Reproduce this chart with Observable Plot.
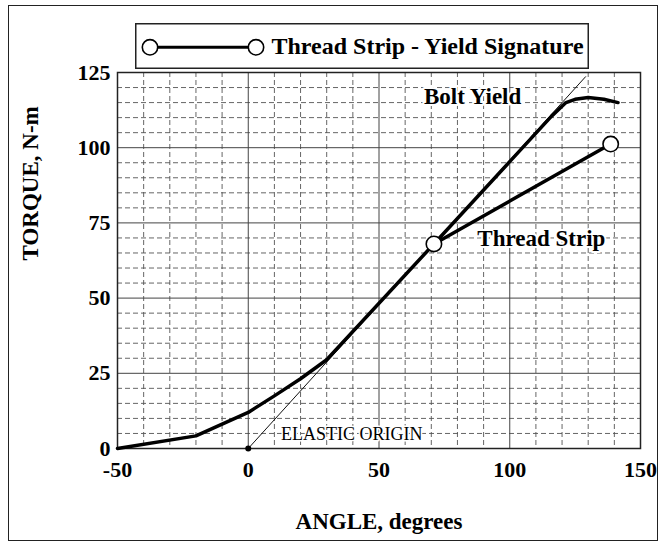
<!DOCTYPE html>
<html><head><meta charset="utf-8">
<script src="https://cdn.jsdelivr.net/npm/d3@7"></script>
<script src="https://cdn.jsdelivr.net/npm/@observablehq/plot@0.6"></script>
<style>
body{margin:0;background:#fff;}
#wrap{position:relative;width:659px;height:542px;overflow:hidden;background:#fff;}
#frame{position:absolute;left:8px;top:5px;width:650px;height:536px;border:1.5px solid #222;box-sizing:border-box;pointer-events:none;}
#legend{position:absolute;left:135px;top:23px;}
</style></head>
<body>
<div id="wrap"><div id="chart"></div><div id="frame"></div><div id="legend"></div></div>
<script>
// ---- data ----
const xTicks = [-50, 0, 50, 100, 150];
const yTicks = [0, 25, 50, 75, 100, 125];
const xMinor = [-40, -30, -20, -10, 10, 20, 30, 40, 60, 70, 80, 90, 110, 120, 130, 140];
const yMinor = [5, 10, 15, 20, 30, 35, 40, 45, 55, 60, 65, 70, 80, 85, 90, 95, 105, 110, 115, 120];

const mainAngle  = [-50, -20, 0, 10, 20, 30, 71];
const mainTorque = [0, 4.2, 12, 17.5, 23.2, 29.5, 68];

const boltAngle  = [71, 116, 121.5, 125, 130, 136, 141.4];
const boltTorque = [68, 110.5, 115, 116.1, 116.7, 116.1, 115];

const stripAngle  = [71, 138.6];
const stripTorque = [68, 101.2];

const elasticAngle  = [0, 129];
const elasticTorque = [0, 123.6];

const circleAngle  = [71, 138.6];
const circleTorque = [68, 101.2];

const originAngle = [0];
const originTorque = [0];

const labelText = ["Bolt Yield", "Thread Strip"];
const labelAngle = [67.2, 87.6];
const labelTorque = [117.1, 69.9];

const noteText = ["ELASTIC ORIGIN"];
const noteAngle = [12.5];
const noteTorque = [4.65];

const legendLabel = "Thread Strip - Yield Signature";
const xTitle = "ANGLE, degrees";
const yTitle = "TORQUE, N-m";

// ---- build tables ----
const toPts = (xs, ys) => xs.map((x, i) => ({x, y: ys[i]}));
const mainPts = toPts(mainAngle, mainTorque);
const boltPts = toPts(boltAngle, boltTorque);
const stripPts = toPts(stripAngle, stripTorque);
const elasticPts = toPts(elasticAngle, elasticTorque);
const circlePts = toPts(circleAngle, circleTorque);
const originPts = toPts(originAngle, originTorque);
const labels = labelText.map((t, i) => ({t, x: labelAngle[i], y: labelTorque[i]}));
const notes = noteText.map((t, i) => ({t, x: noteAngle[i], y: noteTorque[i]}));

const serif = "'Liberation Serif', 'Times New Roman', serif";
const fmt = d => String(d);

const chart = Plot.plot({
  width: 659,
  height: 542,
  marginTop: 72,
  marginBottom: 94,
  marginLeft: 117,
  marginRight: 19,
  style: {fontFamily: serif, fontSize: "22px", fontWeight: "bold", background: "transparent", color: "#111"},
  x: {domain: [-50, 150]},
  y: {domain: [0, 125]},
  marks: [
    Plot.ruleX(xMinor, {stroke: "#555", strokeWidth: 0.9, strokeDasharray: "5,3"}),
    Plot.ruleY(yMinor, {stroke: "#555", strokeWidth: 0.9, strokeDasharray: "5,3"}),
    Plot.ruleX(xTicks, {stroke: "#444", strokeWidth: 1}),
    Plot.ruleY(yTicks, {stroke: "#444", strokeWidth: 1}),
    Plot.frame({stroke: "#222", strokeWidth: 1.5}),
    Plot.line(elasticPts, {x: "x", y: "y", stroke: "#111", strokeWidth: 1}),
    Plot.line(mainPts, {x: "x", y: "y", stroke: "#000", strokeWidth: 3.5, strokeLinejoin: "round"}),
    Plot.line(boltPts, {x: "x", y: "y", stroke: "#000", strokeWidth: 3.5, strokeLinejoin: "round"}),
    Plot.line(stripPts, {x: "x", y: "y", stroke: "#000", strokeWidth: 3.5}),
    Plot.dot(circlePts, {x: "x", y: "y", r: 7.7, fill: "#fff", stroke: "#000", strokeWidth: 1.6}),
    Plot.dot(originPts, {x: "x", y: "y", r: 3, fill: "#000"}),
    Plot.text(labels, {x: "x", y: "y", text: "t", textAnchor: "start", fontSize: 23, fontWeight: "bold", fill: "#000", stroke: "#fff", strokeWidth: 4, paintOrder: "stroke"}),
    Plot.text(notes, {x: "x", y: "y", text: "t", textAnchor: "start", fontSize: 18, fontWeight: "normal", fill: "#000", stroke: "#fff", strokeWidth: 3, paintOrder: "stroke"}),
    Plot.axisX(xTicks, {tickSize: 0, tickPadding: 13, label: null, tickFormat: fmt, fontSize: 22, fontWeight: "bold", fill: "#000"}),
    Plot.axisY(yTicks, {tickSize: 0, tickPadding: 7, label: null, tickFormat: fmt, fontSize: 22, fontWeight: "bold", fill: "#000"}),
    Plot.text([xTitle], {frameAnchor: "bottom", dy: 73.5, text: d => d, lineAnchor: "middle", fontSize: 23, fontWeight: "bold", fill: "#000"}),
    Plot.text([yTitle], {frameAnchor: "left", dx: -87, rotate: -90, text: d => d, lineAnchor: "middle", fontSize: 23, fontWeight: "bold", fill: "#000"})
  ]
});
document.getElementById("chart").appendChild(chart);

// ---- legend ----
const lw = 454, lh = 46;
const leg = d3.select("#legend").append("svg").attr("width", lw).attr("height", lh)
  .style("display", "block").style("font-family", serif);
leg.append("rect").attr("x", 0.75).attr("y", 0.75).attr("width", lw - 1.5).attr("height", lh - 1.5)
  .attr("fill", "#fff").attr("stroke", "#222").attr("stroke-width", 1.5);
leg.append("line").attr("x1", 15).attr("x2", 121).attr("y1", 24.3).attr("y2", 24.3)
  .attr("stroke", "#000").attr("stroke-width", 3);
[15, 121].forEach(cx => leg.append("circle").attr("cx", cx).attr("cy", 24.3).attr("r", 7.7)
  .attr("fill", "#fff").attr("stroke", "#000").attr("stroke-width", 1.6));
leg.append("text").attr("x", 136.5).attr("y", 30.5).attr("font-size", 24).attr("font-weight", "bold")
  .attr("fill", "#000").text(legendLabel);
</script>
</body></html>
